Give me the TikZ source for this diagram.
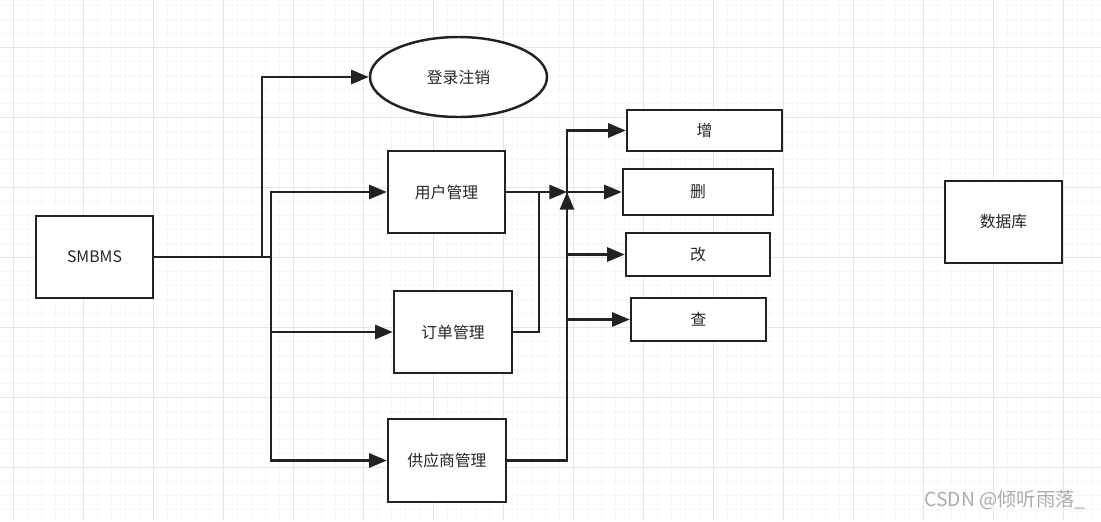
\documentclass[tikz,border=0pt]{standalone}
\usepackage{fontspec}
\newfontfamily\cjk{Noto Sans CJK SC}
\usetikzlibrary{arrows.meta,shapes.geometric}
\definecolor{ink}{HTML}{222222}

\tikzset{
  box/.style={draw=ink, line width=1.4pt, fill=white, inner sep=0pt,
    font=\cjk\fontsize{9}{10}\selectfont, text=black!85},
  sz/.style 2 args={minimum width=#1*0.02cm, minimum height=#2*0.02cm},
  arr/.style={-{Triangle[length=10pt,width=8pt]}},
}

\begin{document}
\begin{tikzpicture}[x=0.02cm,y=-0.02cm]

      \useasboundingbox (0,0) rectangle (1101,521);
      \fill[white] (0,0) rectangle (1101,521);

      % grid
      \foreach \x in {13,27,...,1101} \draw[gray!6, line width=0.4pt] (\x,0) -- (\x,521);
      \foreach \y in {5,19,...,521} \draw[gray!6, line width=0.4pt] (0,\y) -- (1101,\y);
      \foreach \x in {13,83,...,1101} \draw[gray!20, line width=0.5pt] (\x,0) -- (\x,521);
      \foreach \y in {47,117,...,521} \draw[gray!20, line width=0.5pt] (0,\y) -- (1101,\y);

      \begin{scope}[every node/.style={box}]
        \node[sz={117}{82}] (smbms) at (94.5,257) {SMBMS};
        \node[ellipse, sz={177}{80}] (login) at (458.5,77) {登录注销};
        \node[sz={117}{82}] (user) at (446.5,192) {用户管理};
        \node[sz={118}{82}] (order) at (453,332) {订单管理};
        \node[sz={118}{83}] (provider) at (447,460.5) {供应商管理};
        \node[sz={155}{41}] (add) at (704.5,130.5) {增};
        \node[sz={150}{46}] (del) at (698,192) {删};
        \node[sz={144}{43}] (mod) at (698,254.5) {改};
        \node[sz={135}{43}] (query) at (698.5,319.5) {查};
        \node[sz={117}{82}] (db) at (1003.5,222) {数据库};
      \end{scope}

      \coordinate (ja) at (262,257);
      \coordinate (jb) at (271,257);
      \coordinate (jc) at (539,192);
      \coordinate (hub) at (567,192);
      \coordinate (jd) at (568,319.5);

      \begin{scope}[draw=ink, line width=1.4pt]
        \draw[arr] (smbms.east) -- (ja) |- (login.west);
        \draw[arr] (smbms.east) -- (jb) |- (user.west);
        \draw[arr] (jb) |- (order.west);
        \draw[arr] (jb) |- (provider.west);
        \draw[arr] (user.east) -- (hub);
        \draw (order.east) -| (jc);
        \draw[arr] (provider.east) -| (hub);
        \draw[arr] (hub) |- (add.west);
        \draw[arr] (hub) -- (del.west);
        \draw[arr] (hub) |- (mod.west);
        \draw[arr] (jd) -- (query.west);
      \end{scope}

      \node[text=gray!65, font=\cjk\fontsize{11}{13}\selectfont] (mark) at (1005,500) {CSDN @倾听雨落\_};

\end{tikzpicture}
\end{document}
